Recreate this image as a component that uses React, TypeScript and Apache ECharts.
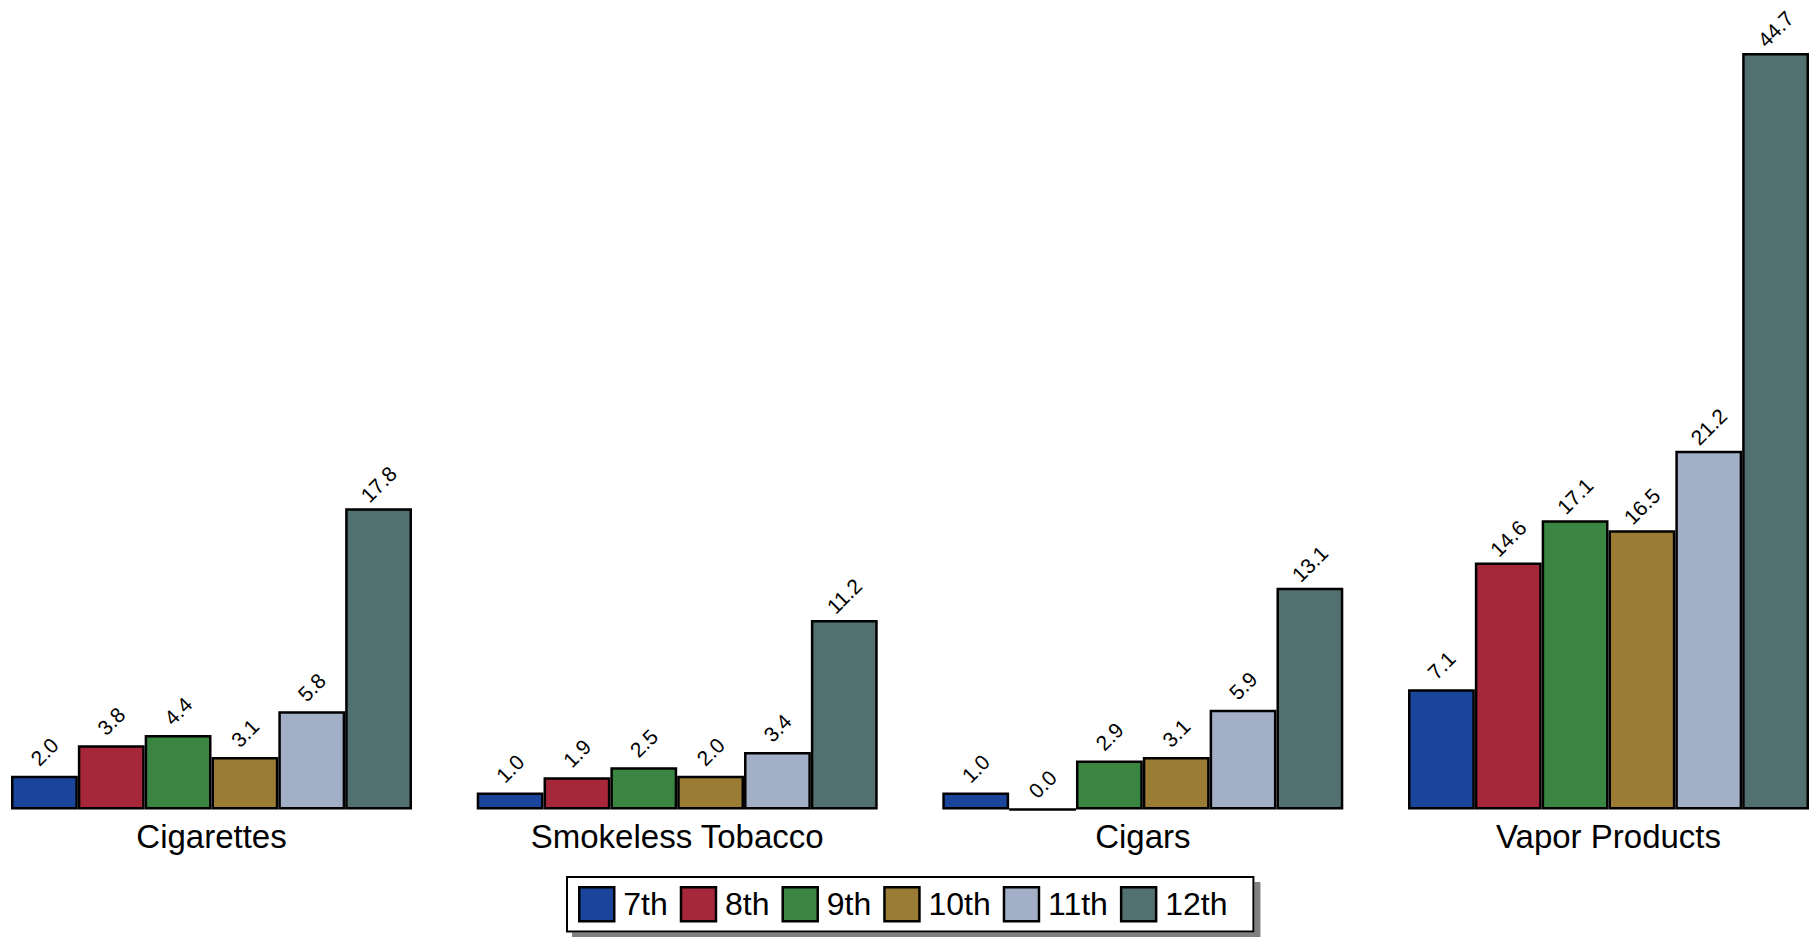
import React, { useEffect, useRef } from "react";
import * as echarts from "echarts";

const categories = ["Cigarettes", "Smokeless Tobacco", "Cigars", "Vapor Products"];
const grades = ["7th", "8th", "9th", "10th", "11th", "12th"];
const grade7 = [2.0, 1.0, 1.0, 7.1];
const grade8 = [3.8, 1.9, 0.0, 14.6];
const grade9 = [4.4, 2.5, 2.9, 17.1];
const grade10 = [3.1, 2.0, 3.1, 16.5];
const grade11 = [5.8, 3.4, 5.9, 21.2];
const grade12 = [17.8, 11.2, 13.1, 44.7];
const gradeValues = [grade7, grade8, grade9, grade10, grade11, grade12];
const colors = ["#1B459B", "#A6263A", "#3A8541", "#9A7C35", "#A2AFC6", "#52706F"];

const gridLefts = [11, 476.7, 942.3, 1408];
const FONT = "'Liberation Sans', Arial, Helvetica, sans-serif";

export default function App() {
  const ref = useRef<HTMLDivElement>(null);
  useEffect(() => {
    if (!ref.current) return;
    const chart = echarts.init(ref.current, undefined, { renderer: "svg" });
    const grid = gridLefts.map((l) => ({ left: l, width: 401, top: 48, height: 761.5 }));
    const xAxis = categories.map((c, i) => ({
      type: "category",
      gridIndex: i,
      data: [c],
      axisLine: { show: false },
      axisTick: { show: false },
      axisLabel: { fontSize: 33, color: "#000", margin: 10, fontFamily: FONT },
      splitLine: { show: false },
    }));
    const yAxis = categories.map((_, i) => ({
      type: "value",
      gridIndex: i,
      min: 0,
      max: 45,
      show: false,
      splitLine: { show: false },
    }));
    const series: any[] = [];
    categories.forEach((_, i) => {
      grades.forEach((g, k) => {
        series.push({
          type: "bar",
          name: g,
          xAxisIndex: i,
          yAxisIndex: i,
          data: [gradeValues[k][i]],
          barGap: "0%",
          barCategoryGap: "0%",
          itemStyle: { color: colors[k], borderColor: "#000", borderWidth: 2.5 },
          label: {
            show: true,
            position: "top",
            distance: 24,
            rotate: 45,
            align: "center",
            verticalAlign: "middle",
            fontSize: 21,
            color: "#000",
            fontFamily: FONT,
            formatter: (p: any) => Number(p.value).toFixed(1),
          },
        });
      });
    });
    chart.setOption({
      animation: false,
      backgroundColor: "#fff",
      textStyle: { fontFamily: FONT },
      grid,
      xAxis,
      yAxis,
      legend: {
        show: true,
        data: grades,
        left: 567,
        top: 877,
        orient: "horizontal",
        icon: "rect",
        itemWidth: 35,
        itemHeight: 34,
        itemGap: 12,
        padding: [9, 26, 9, 11],
        backgroundColor: "#fff",
        borderColor: "#000",
        borderWidth: 2,
        shadowColor: "#808080",
        shadowOffsetX: 6,
        shadowOffsetY: 6,
        shadowBlur: 0,
        selectedMode: false,
        itemStyle: { borderColor: "#000", borderWidth: 2.5 },
        textStyle: { fontSize: 32, color: "#000", fontFamily: FONT, padding: [0, 0, 0, 4] },
      },
      series,
    });
    return () => chart.dispose();
  }, []);
  return (
    <div
      ref={ref}
      style={{ position: "absolute", left: 0, top: 0, width: 1818, height: 937 }}
    />
  );
}
